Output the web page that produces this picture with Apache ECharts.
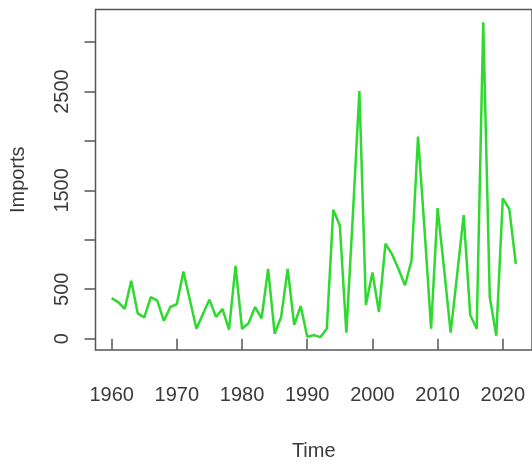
<!DOCTYPE html>
<html>
<head>
<meta charset="utf-8">
<script src="https://cdn.jsdelivr.net/npm/echarts@6/dist/echarts.min.js"></script>
<style>
html,body{margin:0;padding:0;background:#fff;}
#chart{width:532px;height:466px;}
</style>
</head>
<body>
<div id="chart"></div>
<script>
const years = [];
for (let y = 1960; y <= 2022; y++) years.push(y);
const imports = [
  410, 370, 300, 585, 255, 215, 420, 385, 180, 320,
  350, 680, 390, 100, 250, 395, 220, 300, 90, 735,
  100, 155, 320, 205, 705, 50, 220, 705, 140, 330,
  20, 35, 15, 100, 1305, 1145, 60, 1250, 2505, 340,
  670, 270, 960, 855, 705, 540, 790, 2045, 1100, 100,
  1320, 700, 60, 650, 1250, 240, 100, 3200, 420, 30,
  1420, 1310, 755
];
const xTicks = [1960, 1970, 1980, 1990, 2000, 2010, 2020];
const yTicks = [0, 500, 1000, 1500, 2000, 2500, 3000];
const yLabels = [0, 500, 1500, 2500];

const font = '"Liberation Sans", Arial, sans-serif';
const textColor = '#3a3a3a';
const axisColor = '#555';

const chart = echarts.init(document.getElementById('chart'), null, {renderer: 'canvas'});
chart.setOption({
  animation: false,
  backgroundColor: '#fff',
  grid: {
    left: 95.5, top: 9.5, width: 438, height: 344,
    show: true, borderColor: axisColor, borderWidth: 1.5, backgroundColor: 'transparent'
  },
  xAxis: {
    type: 'value',
    min: 1957.52, max: 2024.48,
    name: 'Time', nameLocation: 'middle', nameGap: 91,
    nameTextStyle: {fontFamily: font, fontSize: 20, color: textColor},
    axisLine: {show: false},
    splitLine: {show: false},
    axisTick: {show: true, inside: false, length: 11, customValues: xTicks,
      lineStyle: {color: axisColor, width: 1.5}},
    axisLabel: {customValues: xTicks, margin: 35, fontFamily: font, fontSize: 20, color: textColor,
      formatter: v => String(v)}
  },
  yAxis: {
    type: 'value',
    min: -115, max: 3330,
    name: 'Imports', nameLocation: 'middle', nameGap: 67,
    nameTextStyle: {fontFamily: font, fontSize: 20, color: textColor},
    axisLine: {show: false},
    splitLine: {show: false},
    axisTick: {show: true, inside: false, length: 11, customValues: yTicks,
      lineStyle: {color: axisColor, width: 1.5}},
    axisLabel: {customValues: yLabels, rotate: 90, margin: 23, fontFamily: font, fontSize: 20, color: textColor,
      formatter: v => String(v)}
  },
  series: [{
    type: 'line',
    data: years.map((y, i) => [y, imports[i]]),
    showSymbol: false,
    lineStyle: {color: '#2fd92f', width: 2.5},
    itemStyle: {color: '#2fd92f'}
  }]
});
</script>
</body>
</html>
